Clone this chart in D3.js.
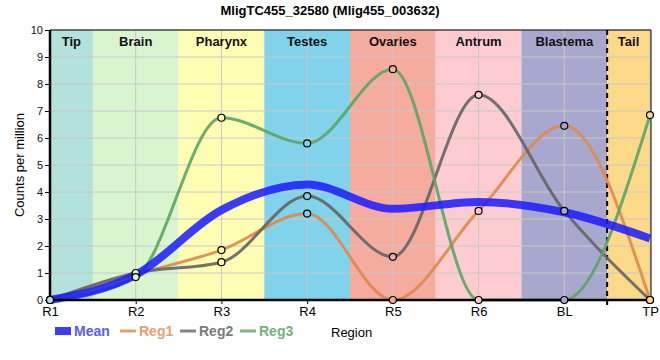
<!DOCTYPE html>
<html><head><meta charset="utf-8">
<script src="https://cdn.jsdelivr.net/npm/d3@7"></script>
<style>body{margin:0;background:#fff}svg{display:block;font-family:Arial,"Liberation Sans",sans-serif}</style>
</head><body><svg id="c" width="660" height="360"></svg>
<script>
const title = "MligTC455_32580 (Mlig455_003632)";
const categories = ["R1","R2","R3","R4","R5","R6","BL","TP"];
const regions = ["Tip","Brain","Pharynx","Testes","Ovaries","Antrum","Blastema","Tail"];
const regionColors = ["#b3e2dd","#d9f5d0","#ffffb3","#80d3ea","#f5ab9e","#fdccd0","#a8a8ce","#fdd98a"];
const yTicks = [0,1,2,3,4,5,6,7,8,9,10];
const meanVals = [0, 0.93, 3.33, 4.28, 3.38, 3.63, 3.25, 2.28];
const reg1Vals = [0, 0.95, 1.85, 3.2, 0, 3.3, 6.45, 0];
const reg2Vals = [0, 1.0, 1.4, 3.85, 1.6, 7.6, 3.3, 0];
const reg3Vals = [0, 0.85, 6.75, 5.8, 8.55, 0, 0, 6.85];
const seriesNames = ["Mean","Reg1","Reg2","Reg3"];
const seriesColors = ["#1a1aff","#e0884a","#646464","#5aa564"];
const legendTextColors = ["#5a5aff","#e8a070","#7a7a7a","#74b27c"];

const svg = d3.select("#c");
const L=50, R=650, T=30, B=300;
const x = d3.scalePoint().domain(categories).range([L,R]);
const y = d3.scaleLinear().domain([0,10]).range([B,T]);
const step = x.step();

// bands
const g = svg.append("g");
regions.forEach((r,i)=>{
  const cx = x(categories[i]);
  const x0 = Math.max(L, cx-step/2), x1 = Math.min(R+1, cx+step/2);
  g.append("rect").attr("x",x0).attr("y",T).attr("width",x1-x0).attr("height",B-T).attr("fill",regionColors[i]);
});
// grid
yTicks.forEach(t=>{ g.append("line").attr("x1",L).attr("x2",R).attr("y1",y(t)).attr("y2",y(t)).attr("stroke","#c8c8c8").attr("stroke-width",1);});
categories.forEach(c=>{ g.append("line").attr("x1",x(c)).attr("x2",x(c)).attr("y1",T).attr("y2",B).attr("stroke","#c8c8c8").attr("stroke-width",1);});
// band labels
regions.forEach((r,i)=>{
  const cx = x(categories[i]);
  const x0 = Math.max(L, cx-step/2), x1 = Math.min(R, cx+step/2);
  svg.append("text").attr("x",(x0+x1)/2).attr("y",46).attr("text-anchor","middle")
    .attr("font-size",13).attr("font-weight","bold").attr("fill","#111").text(r);
});
// dashed divider between BL and TP
const dx = (x("BL")+x("TP"))/2;
svg.append("line").attr("x1",dx).attr("x2",dx).attr("y1",T).attr("y2",B+5).attr("stroke","#000").attr("stroke-width",2).attr("stroke-dasharray","5,4");

// border
svg.append("line").attr("x1",L).attr("x2",R+1).attr("y1",T).attr("y2",T).attr("stroke","#000");
svg.append("line").attr("x1",R+1).attr("x2",R+1).attr("y1",T).attr("y2",B).attr("stroke","#000");

// lines
const line = d3.line().x((d,i)=>x(categories[i])).y(d=>y(d)).curve(d3.curveMonotoneX);
const allVals = [meanVals, reg1Vals, reg2Vals, reg3Vals];
[1,2,3].forEach(k=>{
  svg.append("path").attr("d",line(allVals[k])).attr("fill","none").attr("stroke",seriesColors[k]).attr("stroke-width",3).attr("stroke-opacity",0.9);
});
svg.append("path").attr("d",line(meanVals)).attr("fill","none").attr("stroke",seriesColors[0]).attr("stroke-width",8).attr("stroke-opacity",0.85);

// axes
const ya = d3.axisLeft(y).tickValues(yTicks).tickSize(5).tickPadding(2);
const yg = svg.append("g").attr("transform",`translate(${L},0)`).call(ya);
yg.select(".domain").attr("stroke-width",2.5).attr("d",`M0,${T}V${B}`);
yg.selectAll("text").attr("font-size",11).attr("fill","#111").attr("font-family","Arial,sans-serif");
const xa = d3.axisBottom(x).tickSize(4).tickPadding(3);
const xg = svg.append("g").attr("transform",`translate(0,${B})`).call(xa);
xg.select(".domain").attr("stroke-width",2.5).attr("d",`M${L-1},0H${R+1}`);
xg.selectAll("text").attr("font-size",13).attr("fill","#000").attr("font-family","Arial,sans-serif");

// markers
function bandColorAt(i){ return regionColors[i]; }
[1,2,3].forEach(k=>{
  allVals[k].forEach((v,i)=>{
    svg.append("circle").attr("cx",x(categories[i])).attr("cy",y(v)).attr("r",3.5)
      .attr("fill",bandColorAt(i)).attr("stroke","#000").attr("stroke-width",1.2);
  });
});

// title
svg.append("text").attr("x",330).attr("y",15).attr("text-anchor","middle").attr("font-size",13).attr("font-weight","bold").attr("fill","#000").text(title);
// y title
svg.append("text").attr("transform",`translate(24,${(T+B)/2}) rotate(-90)`).attr("text-anchor","middle").attr("font-size",13).attr("fill","#000").text("Counts per million");
// x title
svg.append("text").attr("x",331).attr("y",337).attr("font-size",13).attr("fill","#000").text("Region");

// legend
const lx = [55,120,180,240];
seriesNames.forEach((n,k)=>{
  if(k===0){
    svg.append("rect").attr("x",lx[k]).attr("y",327).attr("width",16).attr("height",8).attr("fill",seriesColors[0]).attr("opacity",0.85);
  } else {
    svg.append("line").attr("x1",lx[k]).attr("x2",lx[k]+16).attr("y1",331).attr("y2",331).attr("stroke",seriesColors[k]).attr("stroke-width",3).attr("stroke-opacity",0.8);
  }
  svg.append("text").attr("x",lx[k]+19).attr("y",336).attr("font-size",14).attr("font-weight","bold").attr("fill",legendTextColors[k]).text(n);
});
</script></body></html>
